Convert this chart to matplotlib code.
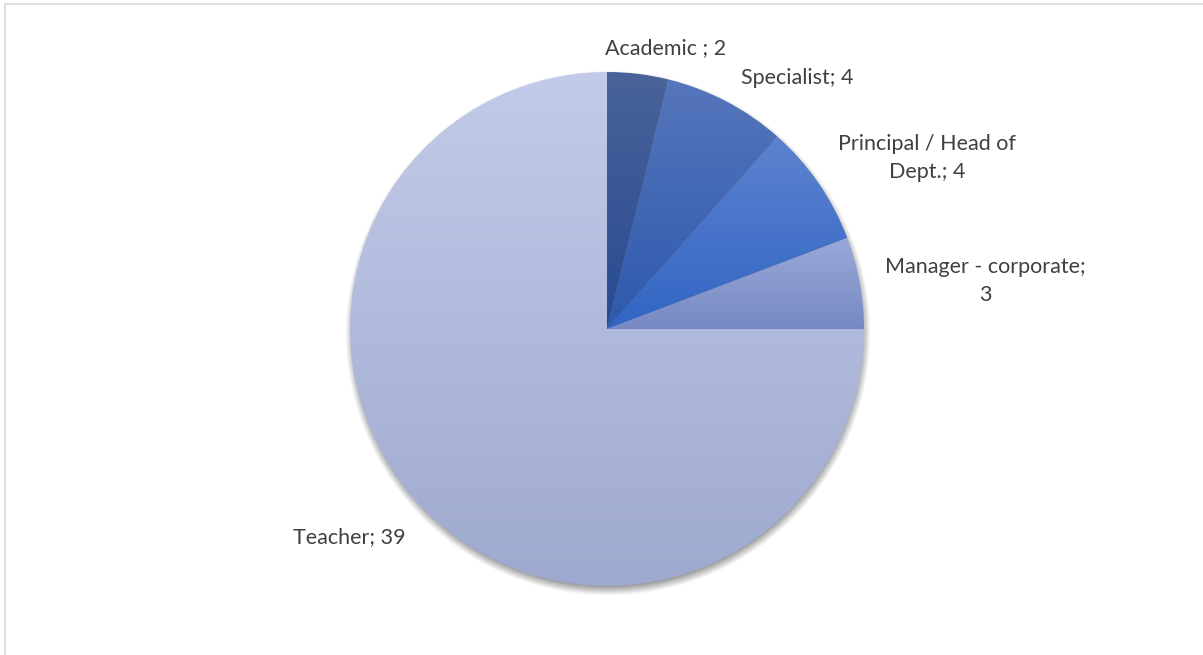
import numpy as np
import matplotlib
matplotlib.use("Agg")
import matplotlib.pyplot as plt
from matplotlib.colors import LinearSegmentedColormap
from matplotlib.patches import Rectangle

# Respondents by role
roles = ['Academic ', 'Specialist', 'Principal / Head of\nDept.', 'Manager - corporate;\n', 'Teacher']
counts = [2, 4, 4, 3, 39]
# top / bottom colours of each slice's gradient
top_colors = ['#4a6399', '#5676bb', '#5d83cf', '#9ba9d9', '#c2cbe8']
bottom_colors = ['#284a92', '#2d59ae', '#3165c4', '#7689c3', '#9ea9cf']
# label positions in pie units (radius = 1)
label_pos = [(0.226, 1.093), (0.739, 0.977), (1.245, 0.665), (1.471, 0.187), (-1.004, -0.809)]

W, H = 1203, 655
cx, cy, r = 607, 329, 257

fig = plt.figure(figsize=(W / 100, H / 100), dpi=100)
fig.patch.set_facecolor('white')

# chart area outline
fig.add_artist(Rectangle((5 / W, -0.1), 1.1, 1 - 4 / H + 0.1, transform=fig.transFigure,
                         fill=False, edgecolor='#d9d9d9', linewidth=1.2))

ax = fig.add_axes([(cx - r) / W, 1 - (cy + r) / H, 2 * r / W, 2 * r / H])
ax.axis('off')

# soft drop shadow under the pie
n = 700
xs = np.linspace(-1.35, 1.35, n)
X, Y = np.meshgrid(xs, xs)
d = np.hypot(X - 0.004, Y + 0.016)
blur = 0.022
a = np.clip((1.0 + blur - d) / (2 * blur), 0, 1) * 0.6
shadow = np.zeros((n, n, 4))
shadow[..., :3] = 0.22
shadow[..., 3] = a
ax.imshow(shadow, extent=(-1.35, 1.35, -1.35, 1.35), origin='lower', zorder=0, clip_on=False)

wedges, _ = ax.pie(counts, startangle=90, counterclock=False, radius=1,
                   wedgeprops=dict(linewidth=0, edgecolor='none'))

grad = np.linspace(0, 1, 256).reshape(-1, 1)
for w, c0, c1 in zip(wedges, top_colors, bottom_colors):
    w.set_facecolor('none')
    verts = w.get_path().vertices
    x0, x1 = verts[:, 0].min(), verts[:, 0].max()
    y0, y1 = verts[:, 1].min(), verts[:, 1].max()
    cmap = LinearSegmentedColormap.from_list('g', [c0, c1])
    im = ax.imshow(grad, cmap=cmap, extent=(x0, x1, y0, y1), origin='upper',
                   aspect='auto', zorder=2, interpolation='bilinear')
    im.set_clip_path(w)

ax.set_xlim(-1, 1)
ax.set_ylim(-1, 1)
ax.set_aspect('equal')

for name, val, (lx, ly) in zip(roles, counts, label_pos):
    txt = f'{name}{val}' if name.endswith('\n') else f'{name}; {val}'
    ax.text(lx, ly, txt, ha='center', va='center', fontsize=15.5, family='Lato',
            color='#404040', linespacing=1.5, zorder=5, clip_on=False)

fig.savefig('out.png', dpi=100)
